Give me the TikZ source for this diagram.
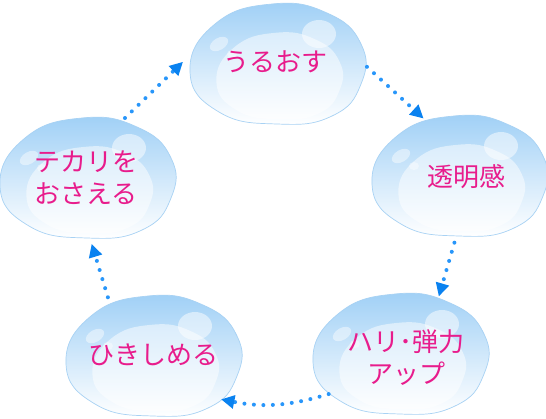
\documentclass[tikz,border=0pt]{standalone}
\usepackage{fontspec}
\newfontfamily\jpfont{Noto Sans CJK JP}
\usetikzlibrary{shapes.geometric,arrows.meta}
\definecolor{droptop}{RGB}{160,208,246}
\definecolor{dropmid}{RGB}{210,233,252}
\definecolor{droprim}{RGB}{168,210,244}
\definecolor{textpink}{RGB}{232,28,140}
\definecolor{dotblue}{RGB}{40,150,250}
\definecolor{tipblue}{RGB}{10,130,240}

\begin{document}
\begin{tikzpicture}[x=1pt,y=-1pt,
  every node/.style={ellipse,minimum width=184pt,minimum height=132pt,inner sep=0pt,
    align=center,text=textpink,font=\jpfont\fontsize{26}{32}\selectfont},
  cyc/.style={dotblue,line width=4pt,line cap=round,dash pattern=on 0pt off 9.5pt,
    -{Triangle[length=13pt,width=14pt,line width=0pt,color=tipblue]}}
]
  \fill[white] (0,0) rectangle (546,418);
  \useasboundingbox (0,0) rectangle (546,418);
  % drops
  \foreach \cx/\cy in {277/64,459/176,400/354,153/356,87/178}{
    \begin{scope}[shift={(\cx,\cy)}]
      \shade[top color=droptop,middle color=dropmid,bottom color=white,draw=droprim,line width=.7pt]
        plot[smooth cycle,tension=.8] coordinates {(-87,8) (-62,-40) (-5,-60) (50,-51) (84,-20) (84,20) (55,52) (0,60) (-58,48)};
      \fill[white,opacity=.5,shift={(2,12)},scale=.72]
        plot[smooth cycle,tension=.8] coordinates {(-87,8) (-62,-40) (-5,-60) (50,-51) (84,-20) (84,20) (55,52) (0,60) (-58,48)};
      \fill[white,opacity=.5] (42,-30) ellipse (17 and 14);
      \fill[white,opacity=.45,shift={(-58,-20)},rotate=30] (0,0) ellipse (10 and 6);
      \fill[white,opacity=.4] (-45,-10) ellipse (5 and 4);
    \end{scope}
  }
  \node (moist) at (275,62) {うるおす};
  \node (clear) at (466,177) {透明感};
  \node (firm) at (406,358) {ハリ･弾力\\アップ};
  \node (tight) at (153,355) {ひきしめる};
  \node (shine) at (86,178) {テカリを\\おさえる};
  % cycle
  \draw[cyc] (moist.-3) -- (clear.126);
  \draw[cyc] (clear.-100) -- (firm.62);
  \draw[cyc] (firm.205) to[bend left=14] (tight.-33);
  \draw[cyc] (tight.128) -- (shine.-85);
  \draw[cyc] (shine.57) -- (moist.180);
\end{tikzpicture}
\end{document}
